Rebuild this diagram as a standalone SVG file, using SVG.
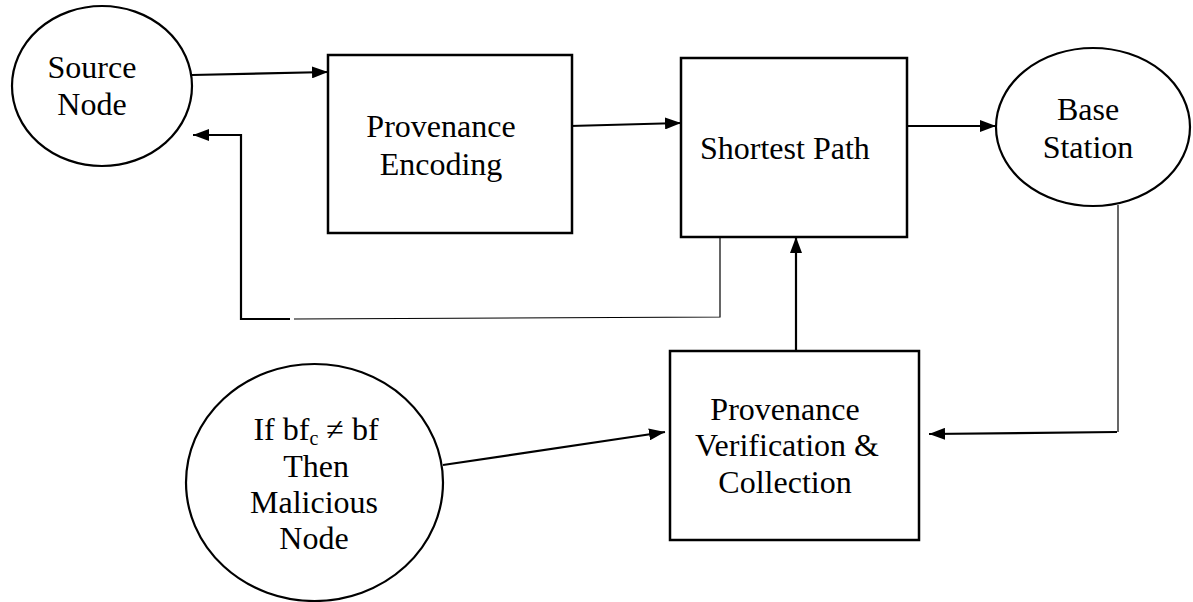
<svg xmlns="http://www.w3.org/2000/svg" width="1193" height="602" viewBox="0 0 1193 602">
  <style>
    .shape { fill: #ffffff; stroke: #000000; stroke-width: 2.5; }
    .ell { fill: #ffffff; stroke: #000000; stroke-width: 2.2; }
    .lbl { font-family: "Liberation Serif", "Times New Roman", serif; font-size: 32px; fill: #000000; }
    .c { text-anchor: middle; }
    .thick { fill: none; stroke: #000000; stroke-width: 2.2; }
    .thin { fill: none; stroke: #000000; stroke-width: 1.2; }
  </style>
  <defs>
    <marker id="arrow" markerUnits="userSpaceOnUse" markerWidth="16" markerHeight="12" refX="16" refY="6" orient="auto">
      <path d="M0,0 L16,6 L0,12 z" fill="#000000"/>
    </marker>
  </defs>
  <rect width="1193" height="602" fill="#ffffff"/>

  <g id="connectors">
    <path class="thick" d="M192,75 L328,72" marker-end="url(#arrow)"/>
    <path class="thick" d="M570,126 L681,123" marker-end="url(#arrow)"/>
    <path class="thick" d="M907,126 L996,126" marker-end="url(#arrow)"/>
    <path class="thin" d="M720,237 L720,317 L294,319"/>
    <path class="thick" d="M290,319 L241,319 L241,135 L193,135" marker-end="url(#arrow)"/>
    <path class="thick" d="M796,351 L796,237" marker-end="url(#arrow)"/>
    <path class="thin" d="M1118,205 L1118,432"/>
    <path class="thick" d="M1117,432 L929,434" marker-end="url(#arrow)"/>
    <path class="thick" d="M443,465 L665,432" marker-end="url(#arrow)"/>
  </g>

  <g id="source-node">
    <ellipse class="ell" cx="102" cy="86" rx="90" ry="80"/>
    <text class="lbl c" x="92" y="78">Source</text>
    <text class="lbl c" x="92" y="115">Node</text>
  </g>

  <g id="provenance-encoding">
    <rect class="shape" x="328" y="55" width="244" height="178"/>
    <text class="lbl c" x="441" y="137">Provenance</text>
    <text class="lbl c" x="441" y="175">Encoding</text>
  </g>

  <g id="shortest-path">
    <rect class="shape" x="681" y="58" width="226" height="179"/>
    <text class="lbl" x="700" y="159">Shortest Path</text>
  </g>

  <g id="base-station">
    <ellipse class="ell" cx="1093" cy="127" rx="97" ry="79"/>
    <text class="lbl c" x="1088" y="120">Base</text>
    <text class="lbl c" x="1088" y="158">Station</text>
  </g>

  <g id="provenance-verification">
    <rect class="shape" x="670" y="351" width="249" height="189"/>
    <text class="lbl c" x="785" y="420">Provenance</text>
    <text class="lbl c" x="787" y="456">Verification &amp;</text>
    <text class="lbl c" x="785" y="493">Collection</text>
  </g>

  <g id="malicious-node">
    <ellipse class="ell" cx="314.5" cy="482.5" rx="128.5" ry="118.5"/>
    <text class="lbl c" x="316" y="440">If bf<tspan font-size="20" dy="5">c</tspan><tspan dy="-5"> ≠ bf</tspan></text>
    <text class="lbl c" x="316" y="477">Then</text>
    <text class="lbl c" x="314" y="513">Malicious</text>
    <text class="lbl c" x="314" y="549">Node</text>
  </g>
</svg>
